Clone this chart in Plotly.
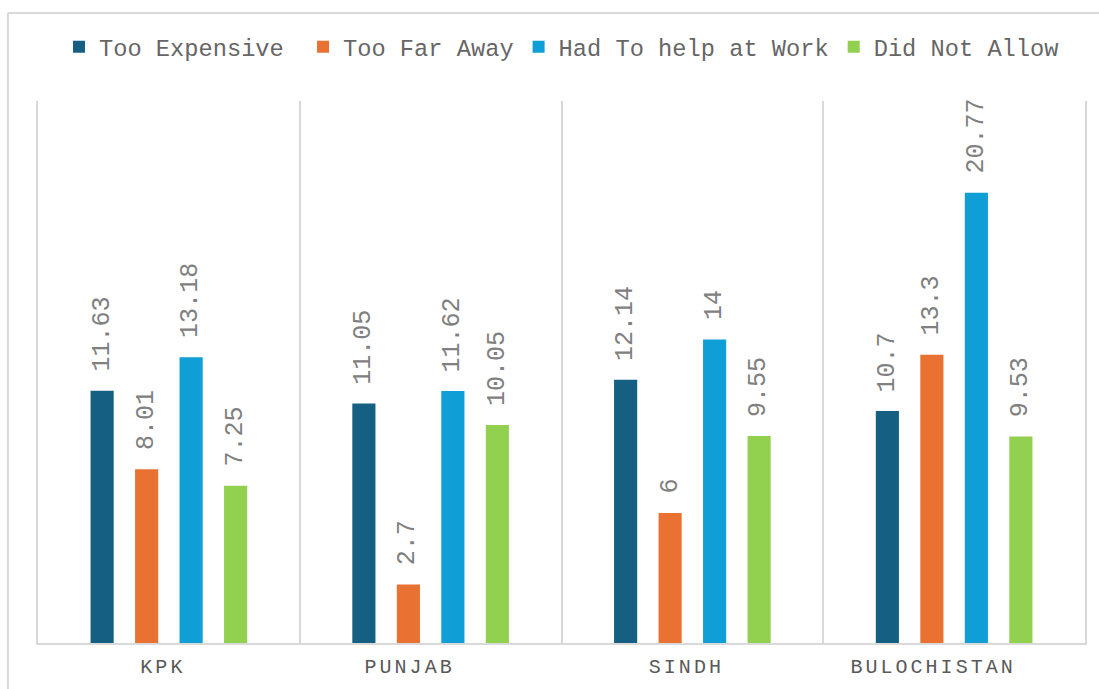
import plotly.graph_objects as go

# Provinces (trailing spaces kept as typed in the source sheet)
categories = ["KPK ", "PUNJAB   ", "SINDH ", "BULOCHISTAN   "]
series_names = ["Too Expensive ", "Too Far Away", "Had To help at Work", "Did Not Allow"]

too_expensive = [11.63, 11.05, 12.14, 10.7]
too_far_away = [8.01, 2.7, 6, 13.3]
help_at_work = [13.18, 11.62, 14, 20.77]
did_not_allow = [7.25, 10.05, 9.55, 9.53]

series_values = [too_expensive, too_far_away, help_at_work, did_not_allow]
colors = ["#156082", "#E97132", "#0F9ED5", "#92D050"]

FONT = "Liberation Mono, Courier New, monospace"
GRID = "#D9D9D9"
BARGAP = 0.32
GROUPGAP = 0.48


def spaced(label):
    """Letter-spaced label: a tiny space between every character."""
    gap = '<span style="font-size:5px"> </span>'
    return gap.join(ch if ch != " " else "\u00a0" for ch in label)


fig = go.Figure()
for name, vals, col in zip(series_names, series_values, colors):
    fig.add_trace(go.Bar(
        name=name, x=categories, y=vals,
        marker=dict(color=col, line=dict(width=0)),
        hoverinfo="skip",
    ))

# Rotated value labels above each bar
n = len(series_values)
slot = (1 - BARGAP) / n
annotations = []
for i, vals in enumerate(series_values):
    for j, v in enumerate(vals):
        annotations.append(dict(
            x=j + (i - (n - 1) / 2) * slot, y=v, xref="x", yref="y",
            text=f"{v:g}", textangle=-90, showarrow=False,
            xanchor="center", yanchor="bottom", yshift=17,
            font=dict(family=FONT, size=25, color="#808080"),
        ))

# Chart-area frame (left and top edges)
frame = [
    dict(type="line", xref="paper", yref="paper", x0=-0.0287, x1=-0.0287,
         y0=1.1624, y1=-0.3, line=dict(color=GRID, width=2)),
    dict(type="line", xref="paper", yref="paper", x0=-0.0287, x1=1.2,
         y0=1.1624, y1=1.1624, line=dict(color=GRID, width=2)),
]

fig.update_layout(
    width=1099, height=689,
    margin=dict(l=38, r=14, t=101, b=46, autoexpand=False),
    paper_bgcolor="white", plot_bgcolor="white",
    barmode="group", bargap=BARGAP, bargroupgap=GROUPGAP,
    showlegend=True,
    legend=dict(
        orientation="h", x=0.5, xanchor="center", y=1.1, yanchor="middle",
        font=dict(family=FONT, size=23.7, color="#666666"),
        traceorder="normal", itemclick=False, itemdoubleclick=False,
    ),
    annotations=annotations,
    shapes=frame,
    xaxis=dict(
        type="category", range=[-0.5, 3.5], automargin=False,
        tickmode="array", tickvals=categories,
        ticktext=[spaced(c) for c in categories],
        tickson="boundaries", ticks="",
        showgrid=True, gridcolor=GRID, gridwidth=2,
        showline=True, linecolor=GRID, linewidth=2,
        tickfont=dict(family=FONT, size=20, color="#595959"),
        ticklabelstandoff=4,
    ),
    yaxis=dict(
        range=[0, 25], showgrid=False, zeroline=False, showticklabels=False,
        automargin=False,
        ticks="", showline=True, mirror=True, linecolor=GRID, linewidth=2,
    ),
)

fig.write_html("out.html")
